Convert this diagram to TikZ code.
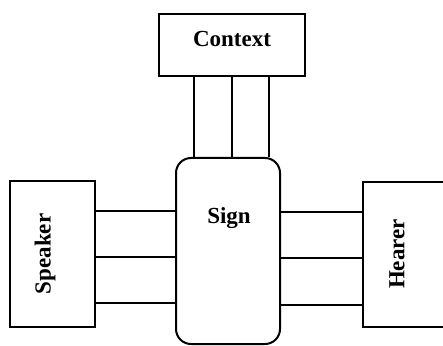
\documentclass[tikz,border=0pt]{standalone}
\usepackage{fontspec}
\setmainfont{Liberation Serif}
\begin{document}
\begin{tikzpicture}[x=1pt,y=1pt,
  box/.style={draw,line width=2pt,inner sep=0pt},
  lbl/.style={font=\fontsize{23}{25}\selectfont\bfseries,inner sep=0pt},
  link/.style={line width=2pt}]
\useasboundingbox (0,0) rectangle (443,345);
\clip (0,0) rectangle (443,345);
\node[box,minimum width=146pt,minimum height=62pt] (context) at (232,300) {};
\node[lbl] (contexttext) at (232,306) {Context};
\node[box,rounded corners=15pt,minimum width=104pt,minimum height=186pt] (sign) at (228,94) {};
\node[lbl] (signtext) at (229,127) {Sign};
\node[box,minimum width=85pt,minimum height=146pt] (speaker) at (52.5,91) {};
\node[lbl,rotate=90] (speakertext) at (45,91) {Speaker};
\node[box,minimum width=85pt,minimum height=145pt] (hearer) at (405.5,90.5) {};
\node[lbl,rotate=90] (hearertext) at (397,91) {Hearer};
\foreach \x in {194,232,269}
  \draw[link] (context.south -| \x,0) -- (sign.north -| \x,0);
\foreach \y in {134,88,42}
  \draw[link] (speaker.east |- 0,\y) -- (sign.west |- 0,\y);
\foreach \y in {133,87,40}
  \draw[link] (sign.east |- 0,\y) -- (hearer.west |- 0,\y);
\end{tikzpicture}
\end{document}
